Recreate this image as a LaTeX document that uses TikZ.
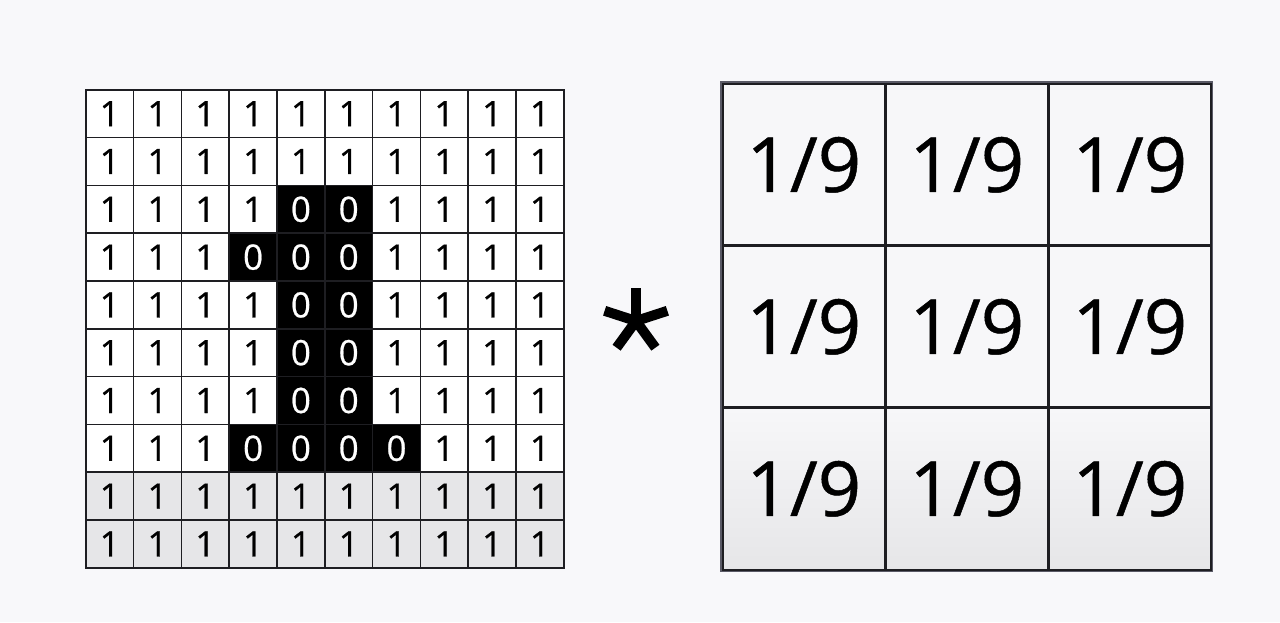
\documentclass[tikz,border=0pt]{standalone}
\usepackage{fontspec}
\setmainfont{Open Sans}
\newfontfamily\digitfont[FakeBold=0.6]{Open Sans}
\definecolor{bgcol}{HTML}{F8F8FA}
\definecolor{gridline}{HTML}{1E1E22}
\definecolor{outline}{HTML}{5A5A66}
\definecolor{lowgray}{HTML}{E6E6E8}
\definecolor{kercell}{HTML}{F7F7F9}
\tikzset{
  lcell/.style={draw=gridline, line width=1.6pt, minimum size=47.8pt, inner sep=0pt, anchor=north west,
    font=\digitfont\fontsize{35}{37}\selectfont},
  whitecell/.style={lcell, fill=white, text=black},
  graycell/.style={lcell, fill=lowgray, text=black},
  blackcell/.style={lcell, fill=black, text=white},
  kcell/.style={draw=gridline, line width=2.6pt, minimum size=163pt, inner sep=0pt, anchor=north west,
    font=\digitfont\fontsize{76}{78}\selectfont, top color=kercell, bottom color=kercell},
  kcelllow/.style={kcell, top color=kercell, bottom color=lowgray},
  spoke/.style={line width=10pt, black}
}
\begin{document}
\begin{tikzpicture}[x=1pt,y=-1pt]
\fill[bgcol] (0,0) rectangle (1280,622);
\useasboundingbox (0,0) rectangle (1280,622);
% left 10x10 image
\foreach \r in {0,...,9}{
  \foreach \c in {0,...,9}{
    \pgfmathtruncatemacro\isb{((\r==2)&&(\c==4||\c==5))||((\r==3)&&(\c>=3)&&(\c<=5))||((\r>=4)&&(\r<=6)&&(\c==4||\c==5))||((\r==7)&&(\c>=3)&&(\c<=6))}
    \ifnum\isb=1
      \node[blackcell] (L-\r-\c) at ({85+47.8*\c},{89+47.8*\r}) {0};
    \else
      \ifnum\r>7
        \node[graycell] (L-\r-\c) at ({85+47.8*\c},{89+47.8*\r}) {1};
      \else
        \node[whitecell] (L-\r-\c) at ({85+47.8*\c},{89+47.8*\r}) {1};
      \fi
    \fi
  }
}
% asterisk
\coordinate (ast) at (636,321);
\foreach \a in {90,162,234,306,18}{
  \draw[spoke] (ast) -- ++({33*cos(\a)},{-33*sin(\a)});
}
% right 3x3 kernel
\foreach \r in {0,1,2}{
  \foreach \c in {0,1,2}{
    \ifnum\r=2
      \node[kcelllow] (K-\r-\c) at ({721+163*\c},{82+162*\r}) {1/9};
    \else
      \node[kcell] (K-\r-\c) at ({721+163*\c},{82+162*\r}) {1/9};
    \fi
  }
}
\draw[outline, line width=1.2pt] (K-0-0.north west) rectangle (K-2-2.south east);
\end{tikzpicture}
\end{document}
